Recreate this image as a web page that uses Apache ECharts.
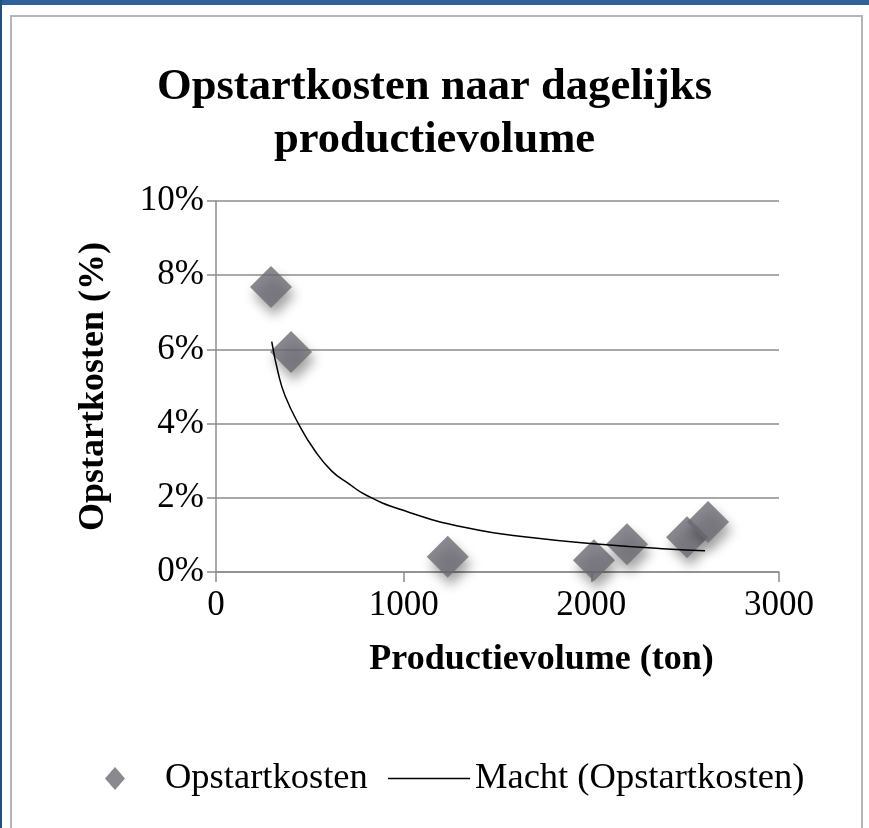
<!DOCTYPE html>
<html>
<head>
<meta charset="utf-8">
<script src="https://cdn.jsdelivr.net/npm/echarts@6/dist/echarts.min.js"></script>
<style>
body{margin:0;background:#fff;}
#topbar{position:absolute;left:0;top:0;width:869px;height:5px;background:#30609a;}
#leftbar{position:absolute;left:0;top:0;width:2px;height:828px;background:#1f4f7c;}
#frame{position:absolute;left:10px;top:15px;width:849px;height:830px;border:2px solid #b5b5b5;}
#main{position:absolute;left:0;top:0;width:869px;height:828px;}
</style>
</head>
<body>
<div id="topbar"></div>
<div id="leftbar"></div>
<div id="frame"></div>
<div id="main"></div>
<script>
// meetpunten
var volume = [293, 400, 1235, 2014, 2190, 2510, 2622];
var costs = [7.68, 5.93, 0.41, 0.32, 0.75, 0.94, 1.35];
// trendlijn (macht)
var trendVolume = [297, 332, 368, 439, 528, 617, 705, 794, 980, 1336, 1690, 2046, 2403, 2606];
var trendCosts = [6.21, 5.35, 4.75, 4.0, 3.26, 2.72, 2.39, 2.09, 1.69, 1.19, 0.92, 0.75, 0.62, 0.57];

var serif = 'Liberation Serif';
var chart = echarts.init(document.getElementById('main'));

var scatterData = volume.map(function (v, i) { return [v, costs[i]]; });
var trendData = trendVolume.map(function (v, i) { return [v, trendCosts[i]]; });

var option = {
    animation: false,
    title: {
        text: 'Opstartkosten naar dagelijks\nproductievolume',
        left: 'center',
        top: 56,
        textStyle: { fontFamily: serif, fontWeight: 'bold', fontSize: 44.6, lineHeight: 53, color: '#000' }
    },
    legend: [
        {
            data: ['Opstartkosten'],
            left: 100,
            top: 755,
            icon: 'diamond',
            itemWidth: 20,
            itemHeight: 23,
            itemStyle: { color: '#6b6b73' },
            textStyle: { fontFamily: serif, fontSize: 36.5, color: '#000', padding: [0, 0, 0, 35] }
        },
        {
            data: [{ name: 'Macht (Opstartkosten)', icon: 'rect' }],
            left: 383,
            top: 755,
            itemWidth: 82,
            itemHeight: 1.5,
            itemStyle: { color: '#000' },
            textStyle: { fontFamily: serif, fontSize: 36.5, color: '#000' }
        }
    ],
    grid: { left: 216, right: 90, top: 201, bottom: 256 },
    xAxis: {
        type: 'value',
        min: 0,
        max: 3000,
        interval: 1000,
        name: 'Productievolume (ton)',
        nameLocation: 'middle',
        nameGap: 70,
        nameTextStyle: { fontFamily: serif, fontWeight: 'bold', fontSize: 36, color: '#000', padding: [0, 0, 0, 88], verticalAlign: 'top' },
        axisLine: { lineStyle: { color: '#8c8c8c', width: 1.5 } },
        axisTick: { show: true, length: 10, lineStyle: { color: '#8c8c8c', width: 1.5 } },
        splitLine: { show: false },
        axisLabel: {
            fontFamily: serif, fontSize: 35, color: '#000', margin: 16,
            formatter: function (v) { return String(v); }
        }
    },
    yAxis: {
        type: 'value',
        min: 0,
        max: 10,
        interval: 2,
        name: 'Opstartkosten (%)',
        nameLocation: 'middle',
        nameRotate: 90,
        nameGap: 104,
        nameTextStyle: { fontFamily: serif, fontWeight: 'bold', fontSize: 36, color: '#000' },
        axisLine: { show: true, lineStyle: { color: '#8c8c8c', width: 1.5 } },
        axisTick: { show: true, length: 9, lineStyle: { color: '#8c8c8c', width: 1.5 } },
        splitLine: { lineStyle: { color: '#8c8c8c', width: 1.5 } },
        axisLabel: { fontFamily: serif, fontSize: 35, color: '#000', margin: 12, formatter: '{value}%' }
    },
    series: [
        {
            name: 'Opstartkosten',
            type: 'scatter',
            symbol: 'diamond',
            symbolSize: 42,
            data: scatterData,
            itemStyle: {
                color: '#6b6b73',
                shadowColor: 'rgba(0,0,0,0.45)',
                shadowBlur: 12,
                shadowOffsetX: 3,
                shadowOffsetY: 8
            },
            z: 2
        },
        {
            name: 'Macht (Opstartkosten)',
            type: 'line',
            data: trendData,
            smooth: true,
            symbol: 'none',
            lineStyle: { color: '#000', width: 1.5 },
            itemStyle: { color: '#000' },
            z: 3
        }
    ]
};
chart.setOption(option);
</script>
</body>
</html>
